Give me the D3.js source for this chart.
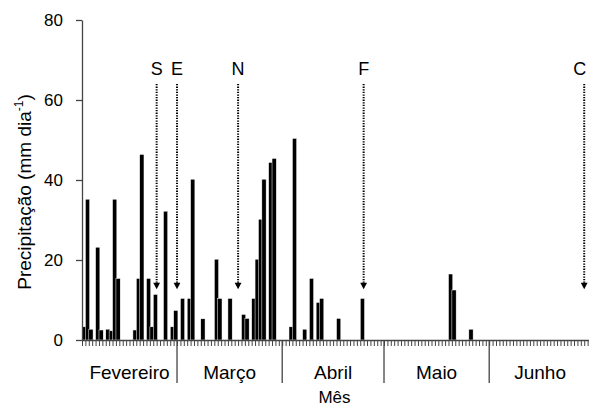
<!DOCTYPE html>
<html>
<head>
<meta charset="utf-8">
<script src="https://cdn.jsdelivr.net/npm/d3@7"></script>
<style>
body { margin: 0; background: #fff; }
svg { display: block; font-family: Arial, "Liberation Sans", sans-serif; }
</style>
</head>
<body>
<svg id="chart" width="589" height="407"></svg>
<script>
// daily rainfall, day 0 = 1st of February
const rainDays = [0, 1, 2, 4, 5, 7, 8, 9, 10, 15, 16, 17, 19, 20, 21, 24, 26, 27,
    29, 31, 32, 35, 39, 40, 43, 47, 48, 50, 51, 52, 53, 55, 56,
    61, 62, 65, 67, 69, 70, 75, 82,
    108, 109, 114];
const rainValues = [3.3, 35.2, 2.7, 23.2, 2.5, 2.7, 2.3, 35.2, 15.4, 2.5, 15.4, 46.4, 15.4, 3.3, 11.4, 32.2, 3.3, 7.4,
    10.4, 10.4, 40.2, 5.3, 20.2, 10.4, 10.4, 6.4, 5.4, 10.4, 20.2, 30.2, 40.2, 44.4, 45.4,
    3.3, 50.4, 2.7, 15.4, 9.4, 10.4, 5.4, 10.4,
    16.5, 12.5, 2.7];

const monthNames = ['Fevereiro', 'Março', 'Abril', 'Maio', 'Junho'];
const monthLengths = [28, 31, 30, 31, 30];
const yTicks = [0, 20, 40, 60, 80];

// crop stages marked with arrows
const stageLabels = ['S', 'E', 'N', 'F', 'C'];
const stageDays = [22, 28, 46, 83, 148];

const svg = d3.select('#chart');
const totalDays = d3.sum(monthLengths);

const xScale = d3.scaleLinear().domain([0, totalDays]).range([82, 591]);
const yScale = d3.scaleLinear().domain([0, 80]).range([340, 20]);
const step = xScale(1) - xScale(0);

//bars, slightly wider than a day with a thin white edge like the original
svg.append('g')
    .selectAll('rect')
    .data(rainDays)
    .enter()
    .append('rect')
        .attr('x', d => xScale(d))
        .attr('width', step + 0.9)
        .attr('y', (d, i) => yScale(rainValues[i]))
        .attr('height', (d, i) => yScale(0) - yScale(rainValues[i]))
        .attr('fill', '#000')
        .attr('stroke', '#fff')
        .attr('stroke-width', 0.5);

//y axis
const yAxis = svg.append('g')
    .attr('transform', `translate(${xScale(0)}, 0)`)
    .call(d3.axisLeft(yScale).tickValues(yTicks).tickSize(6).tickSizeOuter(0).tickPadding(13));
yAxis.select('.domain').attr('stroke', '#444').attr('stroke-width', 1.3);
yAxis.selectAll('.tick line').attr('stroke', '#444').attr('stroke-width', 1.3);
yAxis.selectAll('.tick text').attr('font-size', '17px').attr('fill', '#000')
    .attr('font-family', 'Arial, "Liberation Sans", sans-serif');

//x axis with one tick per day
const xAxis = svg.append('g')
    .attr('transform', `translate(0, ${yScale(0)})`)
    .call(d3.axisBottom(xScale).tickValues(d3.range(0, totalDays + 1)).tickSize(6).tickSizeOuter(0).tickFormat(''));
xAxis.select('.domain').attr('stroke', '#444').attr('stroke-width', 1.3);
xAxis.selectAll('.tick line').attr('stroke', '#444').attr('stroke-width', 1);

//month separators and names
const monthStarts = monthLengths.map((m, i) => d3.sum(monthLengths.slice(0, i)));

svg.append('g')
    .selectAll('line')
    .data(monthStarts.slice(1))
    .enter()
    .append('line')
        .attr('x1', d => xScale(d))
        .attr('x2', d => xScale(d))
        .attr('y1', yScale(0))
        .attr('y2', 383)
        .attr('stroke', '#444')
        .attr('stroke-width', 1.3);

svg.append('g')
    .selectAll('text')
    .data(monthNames)
    .enter()
    .append('text')
        .attr('x', (d, i) => xScale(monthStarts[i] + monthLengths[i] / 2))
        .attr('y', 379)
        .attr('text-anchor', 'middle')
        .attr('font-size', '19px')
        .text(d => d);

//axis titles
svg.append('text')
    .attr('x', (xScale(0) + xScale(totalDays)) / 2 - 2)
    .attr('y', 403)
    .attr('text-anchor', 'middle')
    .attr('font-size', '17px')
    .text('Mês');

const yTitle = svg.append('text')
    .attr('transform', 'translate(31, 192) rotate(-90)')
    .attr('text-anchor', 'middle')
    .attr('font-size', '19px');
yTitle.append('tspan').text('Precipitação (mm dia');
yTitle.append('tspan').attr('font-size', '12px').attr('dy', -8).text('-1');
yTitle.append('tspan').attr('dy', 8).text(')');

//stage arrows
const arrowTop = 64;
const arrowTip = 12.7;
const headSize = 6.5;

const stages = svg.append('g')
    .selectAll('g')
    .data(stageDays)
    .enter()
    .append('g');

stages.append('line')
    .attr('x1', d => xScale(d))
    .attr('x2', d => xScale(d))
    .attr('y1', yScale(arrowTop))
    .attr('y2', yScale(arrowTip) - headSize)
    .attr('stroke', '#000')
    .attr('stroke-width', 2)
    .attr('stroke-dasharray', '1.3,1.3');

stages.append('path')
    .attr('d', d => {
        const x = xScale(d), y = yScale(arrowTip);
        return `M${x - 3.4},${y - headSize}L${x + 3.4},${y - headSize}L${x},${y}Z`;
    })
    .attr('fill', '#000');

stages.append('text')
    .attr('x', (d, i) => i === stageDays.length - 1 ? xScale(d) + 2 : xScale(d))
    .attr('y', 75)
    .attr('text-anchor', (d, i) => i === stageDays.length - 1 ? 'end' : 'middle')
    .attr('font-size', '18px')
    .text((d, i) => stageLabels[i]);
</script>
</body>
</html>
